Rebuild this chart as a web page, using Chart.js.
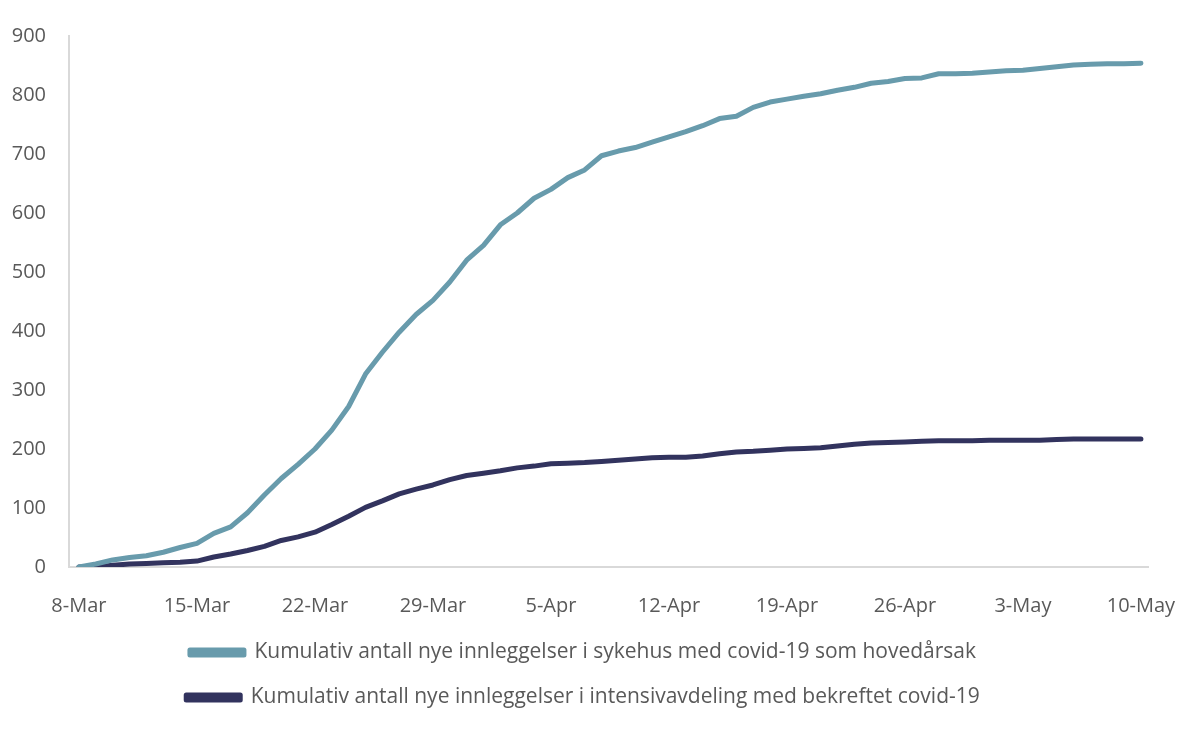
<!DOCTYPE html>
<html>
<head>
<meta charset="utf-8">
<script src="https://cdn.jsdelivr.net/npm/chart.js@4.4.0/dist/chart.umd.min.js"></script>
<style>
  html, body { margin: 0; padding: 0; background: #ffffff; }
  #wrap { width: 1184px; height: 729px; position: relative; }
</style>
</head>
<body>
<div id="wrap"><canvas id="c" width="1184" height="729"></canvas></div>
<script>
// Day labels 8-Mar .. 10-May
const dates = [
  '8-Mar','9-Mar','10-Mar','11-Mar','12-Mar','13-Mar','14-Mar','15-Mar','16-Mar','17-Mar',
  '18-Mar','19-Mar','20-Mar','21-Mar','22-Mar','23-Mar','24-Mar','25-Mar','26-Mar','27-Mar',
  '28-Mar','29-Mar','30-Mar','31-Mar','1-Apr','2-Apr','3-Apr','4-Apr','5-Apr','6-Apr',
  '7-Apr','8-Apr','9-Apr','10-Apr','11-Apr','12-Apr','13-Apr','14-Apr','15-Apr','16-Apr',
  '17-Apr','18-Apr','19-Apr','20-Apr','21-Apr','22-Apr','23-Apr','24-Apr','25-Apr','26-Apr',
  '27-Apr','28-Apr','29-Apr','30-Apr','1-May','2-May','3-May','4-May','5-May','6-May',
  '7-May','8-May','9-May','10-May'
];

const hospital = [
  0, 5, 12, 16, 19, 25, 33, 40, 57, 68,
  92, 122, 150, 174, 200, 232, 272, 327, 364, 398,
  428, 452, 483, 520, 545, 580, 600, 625, 640, 660,
  673, 697, 705, 711, 720, 729, 738, 748, 760, 764,
  779, 788, 793, 798, 802, 808, 813, 820, 823, 828,
  829, 836, 836, 837, 839, 841, 842, 845, 848, 851,
  852, 853, 853, 854
];

const icu = [
  0, 0, 3, 5, 6, 7, 8, 10, 17, 22,
  28, 35, 45, 51, 59, 72, 86, 101, 112, 124,
  132, 139, 148, 155, 159, 163, 168, 171, 175, 176,
  177, 179, 181, 183, 185, 186, 186, 188, 192, 195,
  196, 198, 200, 201, 202, 205, 208, 210, 211, 212,
  213, 214, 214, 214, 215, 215, 215, 215, 216, 217,
  217, 217, 217, 217
];

const seriesNames = [
  'Kumulativ antall nye innleggelser i sykehus med covid-19 som hovedårsak',
  'Kumulativ antall nye innleggelser i intensivavdeling med bekreftet covid-19'
];

const yTicks = [0, 100, 200, 300, 400, 500, 600, 700, 800, 900];
const tickEvery = 7;

const toPoints = arr => arr.map((v, i) => ({ x: i, y: v }));
const textColor = '#595959';
const axisColor = '#d9d9d9';
const FONT = "'Open Sans', 'DejaVu Sans', sans-serif";

// shift the legend block slightly right, as in the reference
const legendShift = {
  id: 'legendShift',
  afterLayout(chart) {
    if (chart.legend) {
      chart.legend.left += 9;
      chart.legend.right += 9;
    }
  }
};

new Chart(document.getElementById('c'), {
  type: 'line',
  plugins: [legendShift],
  data: {
    datasets: [
      {
        label: seriesNames[0],
        data: toPoints(hospital),
        borderColor: '#689bac',
        backgroundColor: '#689bac',
        borderWidth: 5,
        pointRadius: 0,
        tension: 0,
        borderCapStyle: 'round',
        borderJoinStyle: 'round'
      },
      {
        label: seriesNames[1],
        data: toPoints(icu),
        borderColor: '#32335e',
        backgroundColor: '#32335e',
        borderWidth: 5,
        pointRadius: 0,
        tension: 0,
        borderCapStyle: 'round',
        borderJoinStyle: 'round'
      }
    ]
  },
  options: {
    responsive: false,
    animation: false,
    devicePixelRatio: 1,
    layout: { padding: { top: 36, right: 36, bottom: 11, left: 0 } },
    plugins: {
      tooltip: { enabled: false },
      legend: {
        display: true,
        position: 'bottom',
        align: 'center',
        labels: {
          color: textColor,
          font: { family: FONT, size: 21 },
          boxWidth: 54,
          boxHeight: 5,
          padding: 24
        }
      }
    },
    scales: {
      x: {
        type: 'linear',
        min: -0.59,
        max: 63.42,
        grid: { display: false, drawTicks: false },
        border: { display: true, color: axisColor, width: 2 },
        afterBuildTicks: (scale) => {
          const t = [];
          for (let i = 0; i < dates.length; i += tickEvery) t.push({ value: i });
          scale.ticks = t;
        },
        afterFit: (scale) => {
          scale.height = scale.height - 27;
          scale.paddingRight = 0;
          scale.paddingLeft = 0;
        },
        ticks: {
          color: textColor,
          font: { family: FONT, size: 20 },
          padding: 27,
          maxRotation: 0,
          autoSkip: false,
          callback: (v) => dates[v] || ''
        }
      },
      y: {
        type: 'linear',
        min: 0,
        max: 900,
        afterBuildTicks: (scale) => { scale.ticks = yTicks.map(v => ({ value: v })); },
        afterFit: (scale) => { scale.width = 69; },
        grid: { display: false, drawTicks: false },
        border: { display: true, color: axisColor, width: 2 },
        ticks: {
          color: textColor,
          font: { family: FONT, size: 20 },
          padding: 23
        }
      }
    }
  }
});
</script>
</body>
</html>
